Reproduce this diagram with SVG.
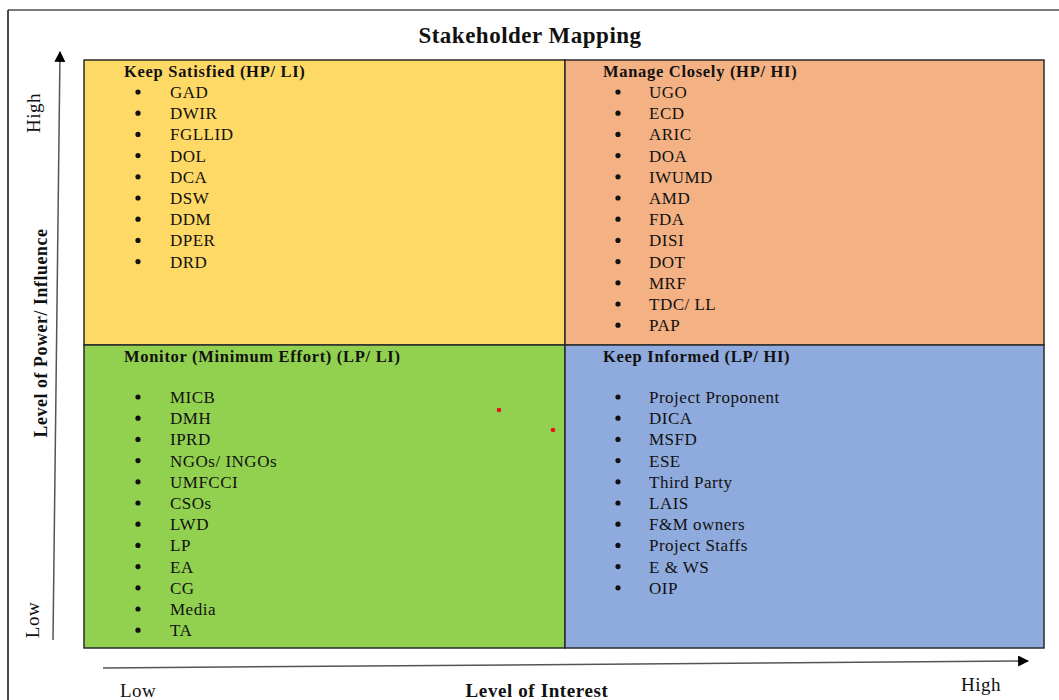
<svg xmlns="http://www.w3.org/2000/svg" width="1059" height="700" viewBox="0 0 1059 700">
<defs>
<style>
.t{font-family:"Liberation Serif","Times New Roman",serif;fill:#111;}
.title{font-size:23px;font-weight:bold;letter-spacing:0.5px;}
.hd{font-size:16.5px;font-weight:bold;letter-spacing:0.7px;}
.it{font-size:17px;letter-spacing:0.5px;}
.ax{font-size:19px;letter-spacing:0.5px;}
.axb{font-size:17.8px;font-weight:bold;letter-spacing:0.6px;}
.axb2{font-size:19px;font-weight:bold;letter-spacing:0.6px;}
.q{stroke:#2b2b2b;stroke-width:1.5;}
.b{fill:#111;}
</style>
<marker id="ah" viewBox="0 0 10 10" refX="9" refY="5" markerWidth="11" markerHeight="11" markerUnits="userSpaceOnUse" orient="auto">
<path d="M0,0 L10,5 L0,10 Z" fill="#000"/>
</marker>
</defs>
<rect x="0" y="0" width="1059" height="700" fill="#fff"/>
<line x1="8" y1="10" x2="1059" y2="10" stroke="#7a7a7a" stroke-width="2"/>
<line x1="8" y1="10" x2="8" y2="700" stroke="#111" stroke-width="1.5"/>
<text class="t title" x="530" y="43" text-anchor="middle">Stakeholder Mapping</text>

<g id="keep-satisfied">
<rect class="q" x="84" y="60" width="481" height="285" fill="#FFD966"/>
<text class="t hd" x="124" y="77">Keep Satisfied (HP/ LI)</text>
<g class="b"><circle cx="138" cy="92" r="2.6"/><circle cx="138" cy="113.2" r="2.6"/><circle cx="138" cy="134.4" r="2.6"/><circle cx="138" cy="155.6" r="2.6"/><circle cx="138" cy="176.8" r="2.6"/><circle cx="138" cy="198" r="2.6"/><circle cx="138" cy="219.2" r="2.6"/><circle cx="138" cy="240.4" r="2.6"/><circle cx="138" cy="261.6" r="2.6"/></g>
<text class="t it" x="170" y="98">GAD</text>
<text class="t it" x="170" y="119.2">DWIR</text>
<text class="t it" x="170" y="140.4">FGLLID</text>
<text class="t it" x="170" y="161.6">DOL</text>
<text class="t it" x="170" y="182.8">DCA</text>
<text class="t it" x="170" y="204">DSW</text>
<text class="t it" x="170" y="225.2">DDM</text>
<text class="t it" x="170" y="246.4">DPER</text>
<text class="t it" x="170" y="267.6">DRD</text>
</g>

<g id="manage-closely">
<rect class="q" x="565" y="60" width="479" height="285" fill="#F4B183"/>
<text class="t hd" x="603" y="77">Manage Closely (HP/ HI)</text>
<g class="b"><circle cx="618" cy="92" r="2.6"/><circle cx="618" cy="113.2" r="2.6"/><circle cx="618" cy="134.4" r="2.6"/><circle cx="618" cy="155.6" r="2.6"/><circle cx="618" cy="176.8" r="2.6"/><circle cx="618" cy="198" r="2.6"/><circle cx="618" cy="219.2" r="2.6"/><circle cx="618" cy="240.4" r="2.6"/><circle cx="618" cy="261.6" r="2.6"/><circle cx="618" cy="282.8" r="2.6"/><circle cx="618" cy="304" r="2.6"/><circle cx="618" cy="325.2" r="2.6"/></g>
<text class="t it" x="649" y="98">UGO</text>
<text class="t it" x="649" y="119.2">ECD</text>
<text class="t it" x="649" y="140.4">ARIC</text>
<text class="t it" x="649" y="161.6">DOA</text>
<text class="t it" x="649" y="182.8">IWUMD</text>
<text class="t it" x="649" y="204">AMD</text>
<text class="t it" x="649" y="225.2">FDA</text>
<text class="t it" x="649" y="246.4">DISI</text>
<text class="t it" x="649" y="267.6">DOT</text>
<text class="t it" x="649" y="288.8">MRF</text>
<text class="t it" x="649" y="310">TDC/ LL</text>
<text class="t it" x="649" y="331.2">PAP</text>
</g>

<g id="monitor">
<rect class="q" x="84" y="345" width="481" height="303" fill="#92D050"/>
<text class="t hd" x="124" y="362">Monitor (Minimum Effort) (LP/ LI)</text>
<g class="b"><circle cx="138" cy="397" r="2.6"/><circle cx="138" cy="418.2" r="2.6"/><circle cx="138" cy="439.4" r="2.6"/><circle cx="138" cy="460.6" r="2.6"/><circle cx="138" cy="481.8" r="2.6"/><circle cx="138" cy="503" r="2.6"/><circle cx="138" cy="524.2" r="2.6"/><circle cx="138" cy="545.4" r="2.6"/><circle cx="138" cy="566.6" r="2.6"/><circle cx="138" cy="587.8" r="2.6"/><circle cx="138" cy="609" r="2.6"/><circle cx="138" cy="630.2" r="2.6"/></g>
<text class="t it" x="170" y="403">MICB</text>
<text class="t it" x="170" y="424.2">DMH</text>
<text class="t it" x="170" y="445.4">IPRD</text>
<text class="t it" x="170" y="466.6">NGOs/ INGOs</text>
<text class="t it" x="170" y="487.8">UMFCCI</text>
<text class="t it" x="170" y="509">CSOs</text>
<text class="t it" x="170" y="530.2">LWD</text>
<text class="t it" x="170" y="551.4">LP</text>
<text class="t it" x="170" y="572.6">EA</text>
<text class="t it" x="170" y="593.8">CG</text>
<text class="t it" x="170" y="615">Media</text>
<text class="t it" x="170" y="636.2">TA</text>
<circle cx="499" cy="410" r="2.3" fill="#e8141a"/>
<circle cx="553" cy="430" r="2.3" fill="#e8141a"/>
</g>

<g id="keep-informed">
<rect class="q" x="565" y="345" width="479" height="303" fill="#8FAADC"/>
<text class="t hd" x="603" y="362">Keep Informed (LP/ HI)</text>
<g class="b"><circle cx="618" cy="397" r="2.6"/><circle cx="618" cy="418.2" r="2.6"/><circle cx="618" cy="439.4" r="2.6"/><circle cx="618" cy="460.6" r="2.6"/><circle cx="618" cy="481.8" r="2.6"/><circle cx="618" cy="503" r="2.6"/><circle cx="618" cy="524.2" r="2.6"/><circle cx="618" cy="545.4" r="2.6"/><circle cx="618" cy="566.6" r="2.6"/><circle cx="618" cy="587.8" r="2.6"/></g>
<text class="t it" x="649" y="403">Project Proponent</text>
<text class="t it" x="649" y="424.2">DICA</text>
<text class="t it" x="649" y="445.4">MSFD</text>
<text class="t it" x="649" y="466.6">ESE</text>
<text class="t it" x="649" y="487.8">Third Party</text>
<text class="t it" x="649" y="509">LAIS</text>
<text class="t it" x="649" y="530.2">F&amp;M owners</text>
<text class="t it" x="649" y="551.4">Project Staffs</text>
<text class="t it" x="649" y="572.6">E &amp; WS</text>
<text class="t it" x="649" y="593.8">OIP</text>
</g>

<g id="connectors">
<line x1="53" y1="640" x2="60" y2="52" stroke="#555" stroke-width="1.5" marker-end="url(#ah)"/>
<line x1="103" y1="668" x2="1028" y2="661" stroke="#555" stroke-width="1.5" marker-end="url(#ah)"/>
</g>

<g id="axis-labels">
<text class="t ax" transform="translate(40,113) rotate(-90)" text-anchor="middle">High</text>
<text class="t ax" transform="translate(39,620) rotate(-90)" text-anchor="middle">Low</text>
<text class="t axb" transform="translate(47,333) rotate(-90)" text-anchor="middle">Level of Power/ Influence</text>
<text class="t ax" x="120" y="697">Low</text>
<text class="t axb2" x="537" y="697" text-anchor="middle">Level of Interest</text>
<text class="t ax" x="961" y="691">High</text>
</g>
</svg>
